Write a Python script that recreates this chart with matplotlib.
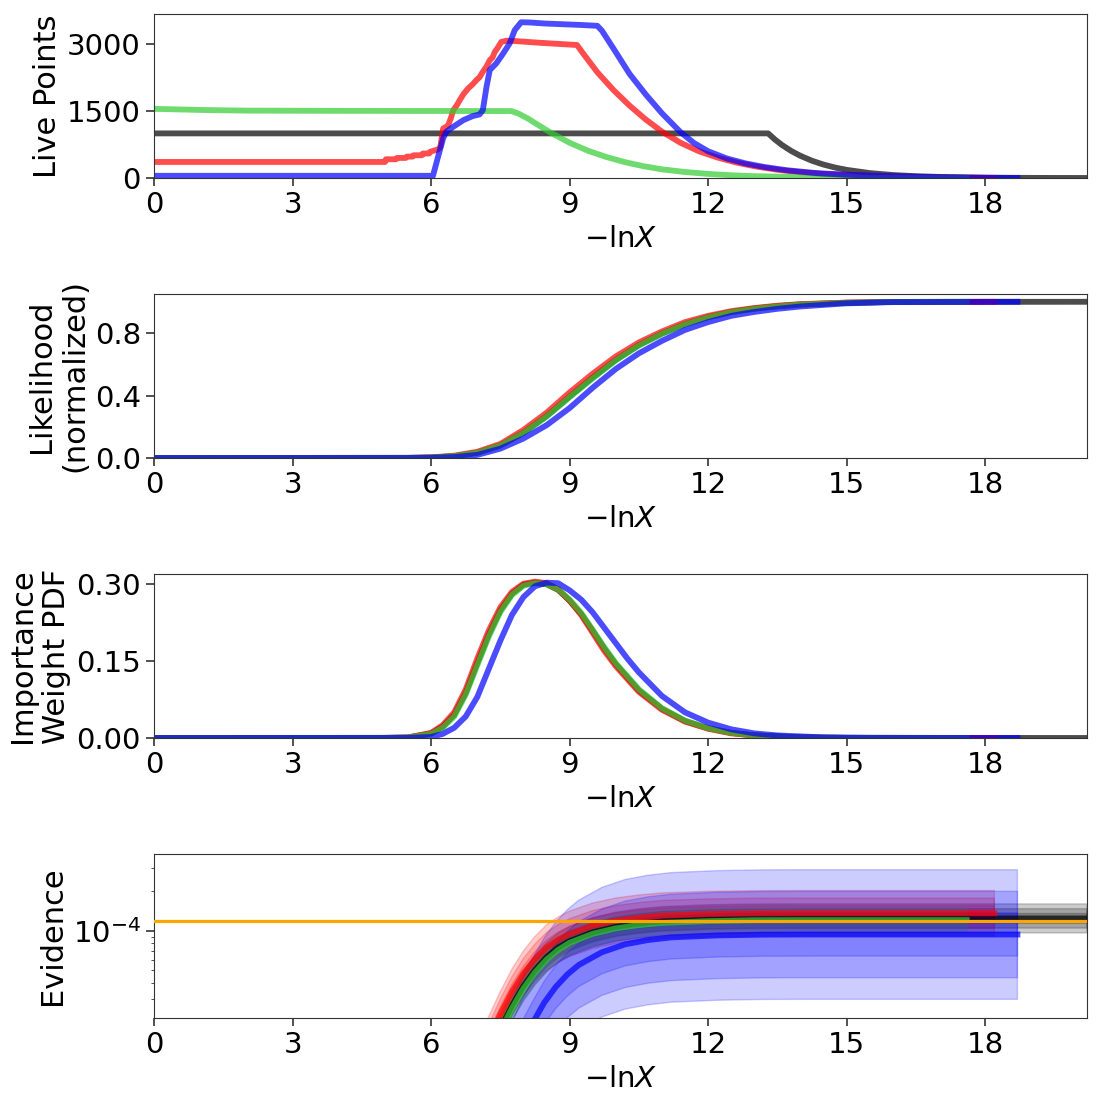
import numpy as np
import matplotlib
matplotlib.use("Agg")
import matplotlib.pyplot as plt

plt.rcParams['font.size'] = 21
plt.rcParams['axes.edgecolor'] = '#333333'
plt.rcParams['xtick.color'] = '#333333'
plt.rcParams['ytick.color'] = '#333333'
plt.rcParams['xtick.labelcolor'] = 'black'
plt.rcParams['ytick.labelcolor'] = 'black'

colors = ['black', 'red', 'limegreen', 'blue']
run_end = [20.2, 18.2, 17.6, 18.7]
x_max = 20.2

# %% live points (-lnX, nlive) per run: black, red, green, blue
live_x = [
    [0, 13.3, 13.45, 13.6, 13.8, 14.0, 14.25, 14.5, 14.75, 15.0, 15.5, 16.0, 16.5, 17.0, 17.5,
     18.0, 18.5, 19.0, 19.5, 20.2],
    [0, 5.0, 5.02, 5.24, 5.26, 5.45, 5.47, 5.6, 5.62, 5.8, 5.82, 5.96, 5.98, 6.15, 6.2, 6.26,
     6.33, 6.37, 6.43, 6.48, 6.55, 6.62, 6.7, 6.8, 6.9, 6.98, 7.05, 7.12, 7.2, 7.27, 7.33,
     7.38, 7.45, 7.52, 7.63, 7.8, 8.35, 9.16, 9.3, 9.6, 9.95, 10.3, 10.65, 11.0, 11.4, 11.8,
     12.2, 12.6, 13.0, 13.5, 14.0, 14.5, 15.0, 15.7, 16.5, 17.3, 18.2],
    [0, 1, 2, 4, 7.74, 7.9, 8.1, 8.3, 8.6, 9.0, 9.4, 9.8, 10.2, 10.6, 11.0, 11.5, 12.0, 12.5,
     13.0, 14.0, 15.0, 16.0, 17.6],
    [0, 6.04, 6.15, 6.26, 6.33, 6.48, 6.7, 6.9, 7.05, 7.12, 7.2, 7.27, 7.41, 7.56, 7.7, 7.81,
     7.95, 8.13, 8.49, 9.22, 9.6, 9.7, 9.95, 10.3, 10.65, 11.0, 11.4, 11.7, 12.0, 12.4, 12.8,
     13.2, 13.7, 14.35, 15.0, 15.7, 16.5, 17.3, 18.0, 18.7],
]
live_n = [
    [1000, 1000, 860, 740, 606, 497, 387, 301, 235, 183, 111, 67, 41, 25, 15, 9, 5.5, 3.3, 2, 1],
    [360, 360, 420, 420, 450, 450, 480, 480, 510, 510, 550, 550, 590, 640, 700, 1110, 1150,
     1185, 1350, 1520, 1620, 1745, 1880, 2006, 2100, 2193, 2260, 2380, 2500, 2640, 2700,
     2827, 2930, 3050, 3075, 3070, 3030, 2980, 2780, 2370, 1970, 1620, 1310, 1040, 790, 600,
     460, 350, 265, 185, 130, 92, 64, 40, 22, 10, 1],
    [1550, 1525, 1510, 1505, 1500, 1440, 1330, 1200, 1010, 790, 610, 470, 355, 265, 195, 135,
     92, 62, 42, 20, 9, 4, 1],
    [50, 50, 477, 888, 1037, 1149, 1298, 1388, 1425, 1522, 2044, 2417, 2566, 2790, 3014, 3312,
     3490, 3485, 3460, 3430, 3410, 3300, 2900, 2330, 1870, 1450, 1030, 780, 600, 440, 330,
     250, 175, 110, 75, 50, 28, 13, 5, 1],
]

# %% normalized likelihood
like_x = [0, 5.5, 6.0, 6.5, 7.0, 7.5, 8.0, 8.5, 9.0, 9.5, 10.0, 10.5, 11.0, 11.5, 12.0,
          12.5, 13.0, 13.5, 14.0, 15.0, 16.0]
like_y = [
    [0, 0.001, 0.003, 0.012, 0.034, 0.081, 0.163, 0.268, 0.393, 0.515, 0.628, 0.723, 0.797,
     0.857, 0.902, 0.935, 0.957, 0.972, 0.983, 0.994, 0.999, 1.0],
    [0, 0.001, 0.004, 0.015, 0.04, 0.09, 0.18, 0.29, 0.42, 0.54, 0.65, 0.74, 0.81, 0.87,
     0.91, 0.94, 0.96, 0.975, 0.985, 0.995, 0.999, 1.0],
    [0, 0.001, 0.003, 0.012, 0.033, 0.08, 0.16, 0.265, 0.39, 0.51, 0.625, 0.72, 0.795,
     0.855, 0.90, 0.933, 0.955, 0.97, 0.982, 0.993, 0.999, 1.0],
    [0, 0.0005, 0.002, 0.006, 0.02, 0.06, 0.125, 0.21, 0.32, 0.45, 0.57, 0.67, 0.75, 0.82,
     0.87, 0.91, 0.935, 0.955, 0.97, 0.99, 0.998, 1.0],
]

# %% importance weight pdf
wt_x = [0, 5.0, 5.5, 6.0, 6.25, 6.5, 6.75, 7.0, 7.25, 7.5, 7.75, 8.0, 8.25, 8.5, 8.75, 9.0,
        9.25, 9.5, 9.75, 10.0, 10.5, 11.0, 11.5, 12.0, 12.5, 13.0, 14.0, 15.0]
wt_y = [
    [0, 0.0002, 0.001, 0.009, 0.022, 0.045, 0.088, 0.146, 0.202, 0.249, 0.281, 0.299, 0.303,
     0.3, 0.289, 0.268, 0.242, 0.209, 0.175, 0.144, 0.093, 0.057, 0.033, 0.019, 0.010, 0.005,
     0.001, 0.0003, 0],
    [0, 0.0002, 0.001, 0.01, 0.025, 0.05, 0.095, 0.155, 0.21, 0.255, 0.285, 0.301, 0.305,
     0.302, 0.29, 0.268, 0.24, 0.205, 0.17, 0.14, 0.09, 0.055, 0.032, 0.018, 0.009, 0.005,
     0.001, 0.0003, 0],
    [0, 0.0002, 0.001, 0.008, 0.02, 0.042, 0.085, 0.142, 0.198, 0.246, 0.279, 0.297, 0.302,
     0.3, 0.29, 0.27, 0.244, 0.211, 0.177, 0.146, 0.095, 0.058, 0.034, 0.019, 0.010, 0.005,
     0.001, 0.0003, 0],
]
wt_x_blue = [0, 5.5, 6.0, 6.25, 6.5, 6.75, 7.0, 7.25, 7.5, 7.75, 8.0, 8.25, 8.5, 8.75, 9.0,
             9.25, 9.5, 9.75, 10.0, 10.25, 10.5, 11.0, 11.5, 12.0, 12.5, 13.0, 13.5, 14.5, 15.5]
wt_y_blue = [0, 0.0003, 0.002, 0.008, 0.02, 0.042, 0.08, 0.135, 0.19, 0.24, 0.275, 0.296,
             0.303, 0.302, 0.288, 0.27, 0.245, 0.215, 0.185, 0.155, 0.128, 0.082, 0.05, 0.03,
             0.017, 0.009, 0.005, 0.0012, 0.0003, 0]

# %% evidence, log10 Z
ev_x = [0, 3, 5, 6, 6.5, 7, 7.25, 7.5, 7.75, 8, 8.25, 8.5, 8.75, 9, 9.5, 10, 10.5, 11, 12,
        13, 14]
ev_x_blue = [0, 3, 5, 6.2, 6.7, 7.2, 7.45, 7.7, 7.95, 8.2, 8.45, 8.7, 8.95, 9.2, 9.7, 10.2,
             10.7, 11.2, 12.2, 13.2, 14.2]
ev_log10 = [
    [-12.9, -10.4, -8.2, -6.457, -5.727, -5.167, -4.937, -4.747, -4.574, -4.423, -4.301, -4.203,
     -4.13, -4.08, -4.012, -3.97, -3.945, -3.928, -3.914, -3.908, -3.907, -3.907],
    [-12.868, -10.368, -8.068, -6.268, -5.568, -5.018, -4.828, -4.638, -4.468, -4.328, -4.218,
     -4.13, -4.07, -4.025, -3.963, -3.925, -3.902, -3.886, -3.874, -3.869, -3.868, -3.868],
    [-12.9, -10.4, -8.25, -6.50, -5.77, -5.20, -4.96, -4.77, -4.595, -4.443, -4.32, -4.222,
     -4.148, -4.093, -4.025, -3.983, -3.958, -3.942, -3.928, -3.921, -3.92, -3.92],
    [-13.1, -10.6, -8.6, -7.03, -6.23, -5.58, -5.30, -5.07, -4.87, -4.705, -4.55, -4.43,
     -4.335, -4.262, -4.165, -4.105, -4.072, -4.052, -4.037, -4.031, -4.03, -4.03],
]
ev_sigma = [0.037, 0.058, 0.032, 0.165]
lnz_truth_log10 = -3.927

fig = plt.figure(figsize=(11.01, 11.01), dpi=100)
left, width, height = 0.140, 0.847, 0.149
bottoms = [0.8383, 0.584, 0.3297, 0.0754]
axes = [fig.add_axes([left, b, width, height]) for b in bottoms]

lw = 4.2
for i in range(4):
    axes[0].plot(live_x[i], live_n[i], color=colors[i], lw=lw, alpha=0.7)
    axes[1].plot(like_x + [run_end[i]], like_y[i], color=colors[i], lw=lw, alpha=0.7)
for i in range(3):
    axes[2].plot(wt_x + [run_end[i]], wt_y[i], color=colors[i], lw=lw, alpha=0.7)
axes[2].plot(wt_x_blue + [run_end[3]], wt_y_blue, color='blue', lw=lw, alpha=0.7)

for i in range(4):
    xs = np.array((ev_x_blue if i == 3 else ev_x) + [run_end[i]])
    v = np.array(ev_log10[i])
    for s in [3, 2, 1]:
        axes[3].fill_between(xs, 10 ** (v + s * ev_sigma[i]), 10 ** (v - s * ev_sigma[i]),
                             color=colors[i], alpha=0.2)
    axes[3].plot(xs, 10 ** v, color=colors[i], lw=lw, alpha=0.7)
axes[3].axhline(10 ** lnz_truth_log10, color='orange', lw=2.3, zorder=10)
axes[3].set_yscale('log')

axes[0].set_ylim(0, 3675)
axes[0].set_yticks([0, 1500, 3000])
axes[1].set_ylim(0, 1.05)
axes[1].set_yticks([0.0, 0.4, 0.8])
axes[2].set_ylim(0, 0.32)
axes[2].set_yticks([0.0, 0.15, 0.30])
axes[3].set_ylim(2.15e-5, 3.85e-4)

labels = ['Live Points', 'Likelihood\n(normalized)', 'Importance\nWeight PDF', 'Evidence']
for ax, lab in zip(axes, labels):
    ax.set_xlim(0, x_max)
    ax.set_xticks([0, 3, 6, 9, 12, 15, 18])
    ax.set_xlabel(r'$-\mathrm{ln}X$', fontsize=21)
    ax.set_ylabel(lab, fontsize=22)
    ax.tick_params(length=6, width=1.2)

plt.savefig('out.png', dpi=100)
